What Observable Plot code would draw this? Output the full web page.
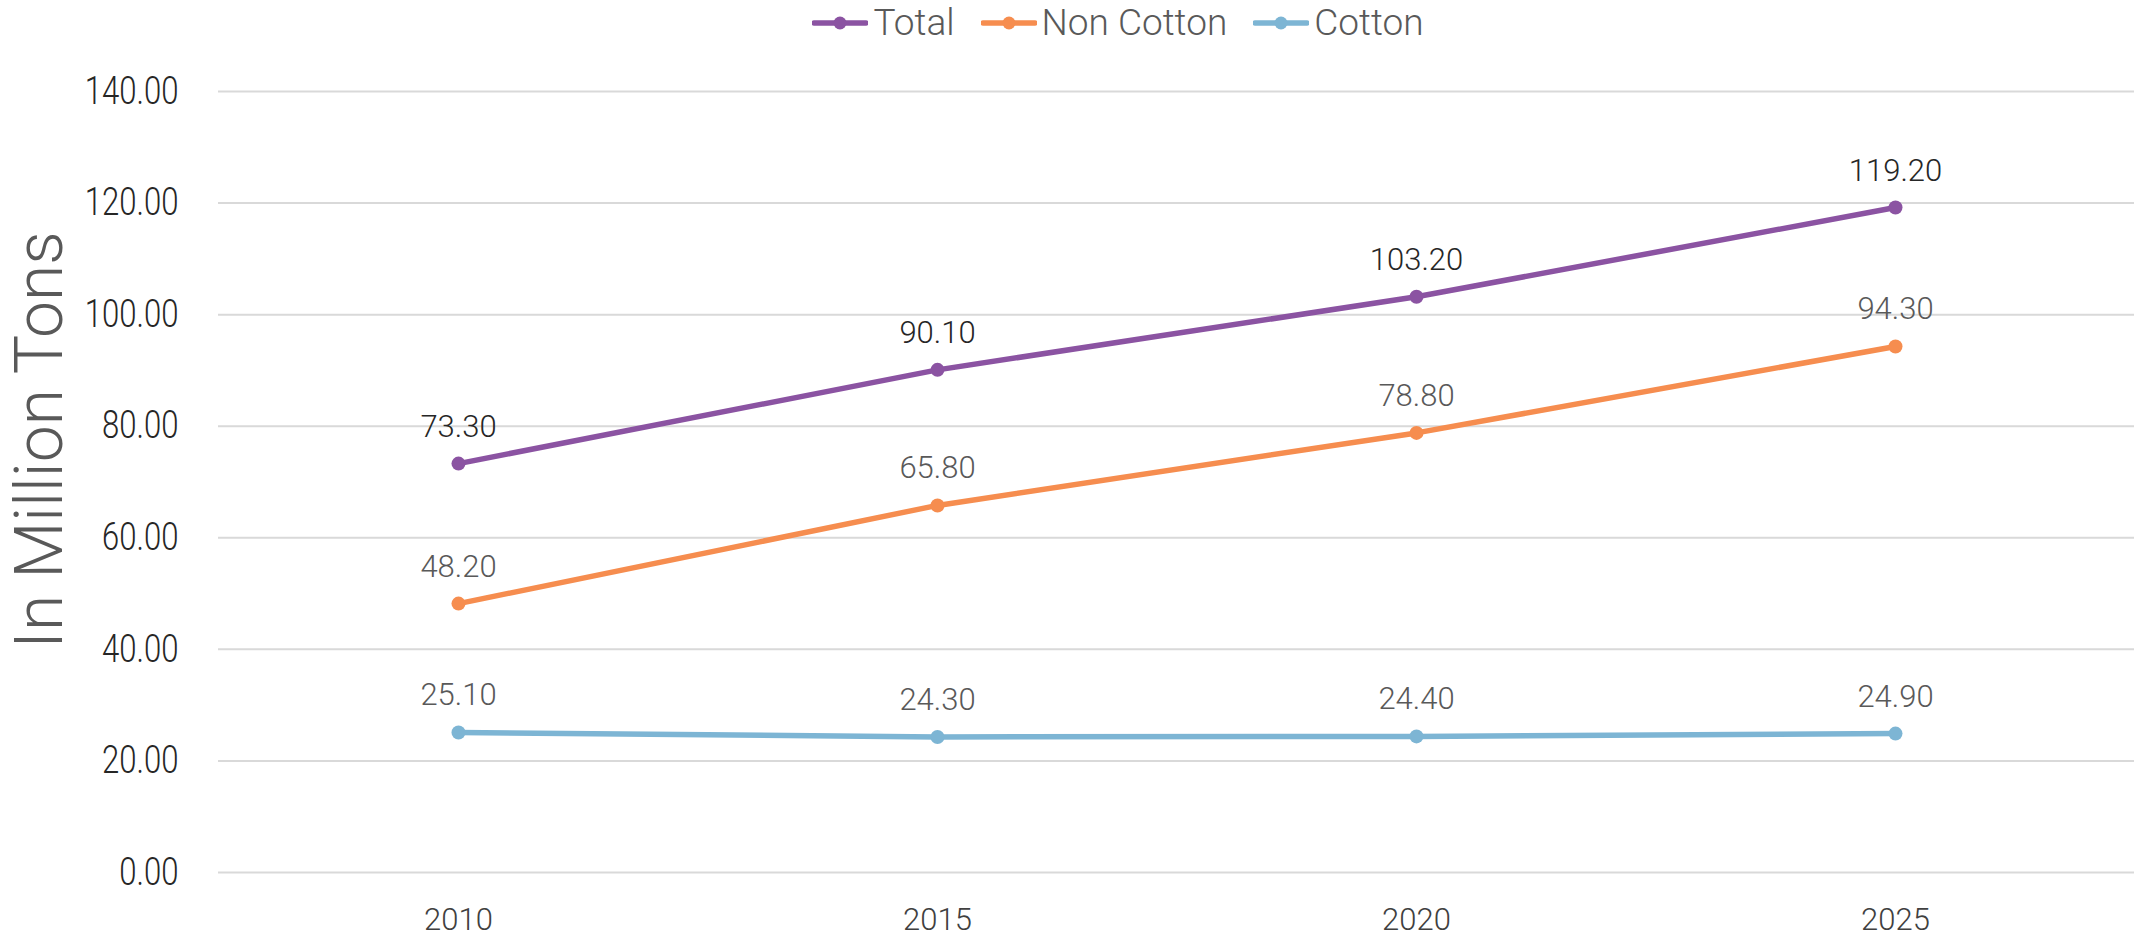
<!DOCTYPE html>
<html><head><meta charset="utf-8">
<script src="https://cdn.jsdelivr.net/npm/d3@7"></script>
<script src="https://cdn.jsdelivr.net/npm/@observablehq/plot@0.6"></script>
<style>
html,body{margin:0;padding:0;background:#fff;}
body{width:2134px;height:936px;overflow:hidden;font-family:Roboto,"Open Sans",sans-serif;}
#legend{box-sizing:border-box;width:2134px;height:45px;padding-left:102px;display:flex;justify-content:center;align-items:center;}
.item{display:flex;align-items:center;margin:0 13px;}
.item span{font-size:37px;font-weight:300;color:#595959;margin-left:5px;line-height:1;}
.item svg{display:block;}
</style></head><body>
<div id="legend"></div>
<div id="chart"></div>
<script>
const years = ["2010", "2015", "2020", "2025"];
const seriesNames = ["Total", "Non Cotton", "Cotton"];
const totalValues = [73.3, 90.1, 103.2, 119.2];
const nonCottonValues = [48.2, 65.8, 78.8, 94.3];
const cottonValues = [25.1, 24.3, 24.4, 24.9];
const yTicks = [0, 20, 40, 60, 80, 100, 120, 140];
const yTitle = "In Million Tons";

const seriesValues = [totalValues, nonCottonValues, cottonValues];
const colors = ["#8B53A2", "#F68D4F", "#7DB5D4"];
const labelColors = ["#262626", "#595959", "#595959"];

// legend
const legend = document.getElementById("legend");
seriesNames.forEach((s, k) => {
  const item = document.createElement("div");
  item.className = "item";
  item.innerHTML = `<svg width="56" height="16"><line x1="2" x2="54" y1="8" y2="8" stroke="${colors[k]}" stroke-width="5.5" stroke-linecap="round"/><circle cx="28" cy="8" r="6.5" fill="${colors[k]}"/></svg><span>${s}</span>`;
  legend.appendChild(item);
});

const rows = [];
seriesNames.forEach((s, k) => years.forEach((yr, i) => rows.push({series: s, year: yr, value: seriesValues[k][i]})));

const marks = [
  Plot.gridY({ticks: yTicks, stroke: "#D9D9D9", strokeOpacity: 1, strokeWidth: 2}),
  Plot.axisY({ticks: yTicks, tickSize: 0, tickPadding: 40, fontSize: 38, fontWeight: 300, fill: "#262626", tickFormat: d => d.toFixed(2), label: null}),
  Plot.axisX({tickSize: 0, tickPadding: 35, fontSize: 31, fontWeight: 300, fill: "#404040", label: null}),
  Plot.text([yTitle], {text: d => d, frameAnchor: "left", textAnchor: "middle", lineAnchor: "middle", rotate: -90, dx: -178, dy: -42, fontSize: 66, fontWeight: 300, fill: "#595959"})
];
seriesNames.forEach((s, k) => {
  const d = rows.filter(r => r.series === s);
  marks.push(Plot.line(d, {x: "year", y: "value", stroke: colors[k], strokeWidth: 5.5}));
  marks.push(Plot.dot(d, {x: "year", y: "value", fill: colors[k], r: 7}));
  marks.push(Plot.text(d, {x: "year", y: "value", text: r => r.value.toFixed(2), dy: -27, lineAnchor: "bottom", fontSize: 31, fontWeight: 300, fill: labelColors[k]}));
});

const chart = Plot.plot({
  width: 2134, height: 891,
  marginLeft: 218, marginRight: 0, marginTop: 46, marginBottom: 64,
  x: {type: "point", domain: years, padding: 0.5},
  y: {domain: [0, 140]},
  style: {fontFamily: "Roboto, 'Open Sans', sans-serif", background: "white", overflow: "visible"},
  marks
});
document.getElementById("chart").appendChild(chart);
chart.querySelectorAll('g[aria-label="y-axis tick label"] text').forEach(t => {
  const tr = t.getAttribute("transform") || "";
  t.setAttribute("transform", tr + " scale(0.82,1)");
});
</script>
</body></html>
